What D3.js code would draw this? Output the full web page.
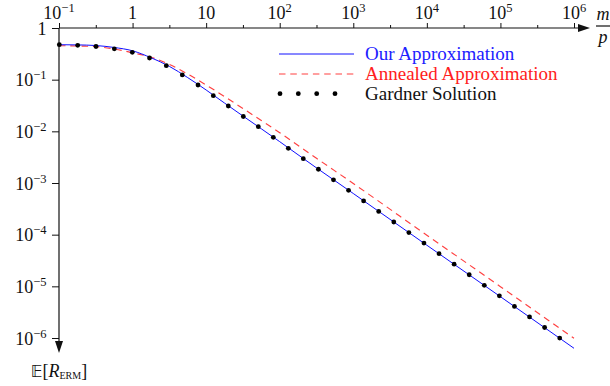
<!DOCTYPE html>
<html><head><meta charset="utf-8">
<script src="https://cdn.jsdelivr.net/npm/d3@7/dist/d3.min.js"></script>
<style>
body{margin:0;background:#fff}
svg{display:block}
text{font-family:"Liberation Serif","Times New Roman",serif;fill:#111}
</style>
</head><body>
<svg id="chart" width="610" height="386"></svg>
<script>
// ---- data ----
const curveX = [0.1, 0.1778, 0.3162, 0.5623, 1, 1.778, 3.162, 5.623, 10, 17.78, 31.62, 56.23, 100, 316.2, 1e3, 1e4, 1e5, 1e6];
const ourApprox = [0.475, 0.471, 0.458, 0.42, 0.362, 0.266, 0.181, 0.1096, 0.0631, 0.0353, 0.0198, 0.0112, 0.00631, 0.00196, 6.26e-4, 6.25e-5, 6.3e-6, 6.32e-7];
const annealedApprox = [0.454, 0.449, 0.436, 0.392, 0.331, 0.272, 0.1974, 0.128, 0.0788, 0.0472, 0.0277, 0.0162, 0.00941, 0.00301, 9.78e-4, 9.77e-5, 9.85e-6, 9.88e-7];
const gardnerX = [0.101, 0.1795, 0.3184, 0.565, 0.9915, 1.699, 2.874, 4.742, 7.753, 12.51, 20.01, 32.0, 51.2, 81.8, 130.9, 209.2, 335.5, 537.9, 862.1, 1382, 2216, 3553, 5695, 9134, 14640, 23480, 37640, 60350, 96740, 155100, 248700, 398700, 639200];
const gardnerY = [0.475, 0.4627, 0.4385, 0.3957, 0.3386, 0.2626, 0.1864, 0.1237, 0.0788, 0.04896, 0.03093, 0.01937, 0.0123, 0.007665, 0.004696, 0.002955, 0.001846, 0.001154, 7.21e-4, 4.505e-4, 2.815e-4, 1.759e-4, 1.099e-4, 6.87e-5, 4.29e-5, 2.68e-5, 1.676e-5, 1.047e-5, 6.54e-6, 4.09e-6, 2.556e-6, 1.597e-6, 9.98e-7];
const xTickValues = [0.1, 1, 10, 100, 1e3, 1e4, 1e5, 1e6];
const xTickBase = ["10", "1", "10", "10", "10", "10", "10", "10"];
const xTickExp = ["\u22121", "", "", "2", "3", "4", "5", "6"];
const xMinorTicks = [0.3162, 3.162, 31.62, 316.2, 3162, 31620, 316200];
const yTickValues = [1, 0.1, 0.01, 1e-3, 1e-4, 1e-5, 1e-6];
const yTickBase = ["1", "10", "10", "10", "10", "10", "10"];
const yTickExp = ["", "\u22121", "\u22122", "\u22123", "\u22124", "\u22125", "\u22126"];
const legendLabels = ["Our Approximation", "Annealed Approximation", "Gardner Solution"];

// ---- chart ----
const svg = d3.select("#chart");
const x = d3.scaleLog().domain([0.1, 1e6]).range([59, 574]);
const y = d3.scaleLog().domain([1, 1e-6]).range([28, 338]);
const fs = 18, fsSup = 12.5;

// x axis (top)
const xAxis = svg.append("g").attr("transform", "translate(0,28)")
  .call(d3.axisTop(x).tickValues(xTickValues).tickSize(5).tickFormat(() => ""));
xAxis.select(".domain").remove();
xAxis.selectAll(".tick line").attr("stroke", "#111").attr("stroke-width", 1);
svg.append("g").attr("transform", "translate(0,28)")
  .call(d3.axisTop(x).tickValues(xMinorTicks).tickSize(3).tickFormat(() => ""))
  .call(g => g.select(".domain").remove())
  .selectAll(".tick line").attr("stroke", "#111").attr("stroke-width", 1);

const xl = svg.append("g");
xTickValues.forEach((v, i) => {
  const t = xl.append("text").attr("x", x(v)).attr("y", 18.5).attr("text-anchor", "middle").style("font-size", fs + "px");
  t.append("tspan").text(xTickBase[i]);
  if (xTickExp[i]) t.append("tspan").attr("dy", -7).style("font-size", fsSup + "px").text(xTickExp[i]);
});

// y axis (left)
const yAxis = svg.append("g").attr("transform", "translate(59,0)")
  .call(d3.axisLeft(y).tickValues(yTickValues).tickSize(7).tickFormat(() => ""));
yAxis.select(".domain").remove();
yAxis.selectAll(".tick line").attr("stroke", "#111").attr("stroke-width", 1);
const yl = svg.append("g");
yTickValues.forEach((v, i) => {
  const t = yl.append("text").attr("x", 46.5).attr("y", y(v) + 6.5).attr("text-anchor", "end").style("font-size", fs + "px");
  t.append("tspan").text(yTickBase[i]);
  if (yTickExp[i]) t.append("tspan").attr("dy", -7).style("font-size", fsSup + "px").text(yTickExp[i]);
});

// axis lines with arrows
svg.append("line").attr("x1", 59).attr("x2", 580).attr("y1", 28).attr("y2", 28).attr("stroke", "#111").attr("stroke-width", 1.2);
svg.append("path").attr("d", "M578,24 L590,28 L578,32 Z").attr("fill", "#111");
svg.append("line").attr("x1", 59).attr("x2", 59).attr("y1", 28).attr("y2", 343).attr("stroke", "#111").attr("stroke-width", 1.2);
svg.append("path").attr("d", "M55,341 L59,353 L63,341 Z").attr("fill", "#111");

// axis labels
svg.append("text").attr("x", 603).attr("y", 20).attr("text-anchor", "middle").style("font-size", "18px").style("font-style", "italic").text("m");
svg.append("line").attr("x1", 596).attr("x2", 610).attr("y1", 26).attr("y2", 26).attr("stroke", "#111").attr("stroke-width", 1.2);
svg.append("text").attr("x", 603).attr("y", 43).attr("text-anchor", "middle").style("font-size", "18px").style("font-style", "italic").text("p");

const yLab = svg.append("text").attr("x", 59).attr("y", 377).attr("text-anchor", "middle").style("font-size", "18px");
yLab.append("tspan").style("font-family", "DejaVu Sans").style("font-size", "16px").text("\u{1D53C}");
yLab.append("tspan").text("[");
yLab.append("tspan").style("font-style", "italic").text("R");
yLab.append("tspan").attr("dy", 2).style("font-size", "10px").text("ERM");
yLab.append("tspan").attr("dy", -2).text("]");

// curves
const line = d3.line().x(d => x(d[0])).y(d => y(d[1])).curve(d3.curveMonotoneX);
svg.append("path").datum(curveX.map((v, i) => [v, annealedApprox[i]]))
  .attr("d", line).attr("fill", "none").attr("stroke", "#ff4040").attr("stroke-width", 1.15).attr("stroke-dasharray", "6.5,4.8");
svg.append("path").datum(curveX.map((v, i) => [v, ourApprox[i]]))
  .attr("d", line).attr("fill", "none").attr("stroke", "#1010ff").attr("stroke-width", 1);
svg.append("g").selectAll("circle").data(gardnerX.map((v, i) => [v, gardnerY[i]])).join("circle")
  .attr("cx", d => x(d[0])).attr("cy", d => y(d[1])).attr("r", 2.4).attr("fill", "#000");

// legend
const lg = svg.append("g");
lg.append("line").attr("x1", 279).attr("x2", 354).attr("y1", 54).attr("y2", 54).attr("stroke", "#1010ff").attr("stroke-width", 1);
lg.append("line").attr("x1", 279).attr("x2", 354).attr("y1", 74).attr("y2", 74).attr("stroke", "#ff4040").attr("stroke-width", 1.15).attr("stroke-dasharray", "6.5,4.8");
[280, 298.3, 316.7, 335].forEach(cx => lg.append("circle").attr("cx", cx).attr("cy", 93.7).attr("r", 2.4).attr("fill", "#000"));
const legColors = ["#2020ff", "#ff2020", "#111"];
legendLabels.forEach((s, i) => {
  lg.append("text").attr("x", 365).attr("y", 59.5 + i * 20).style("font-size", "19px").style("fill", legColors[i]).text(s);
});
</script>
</body></html>
